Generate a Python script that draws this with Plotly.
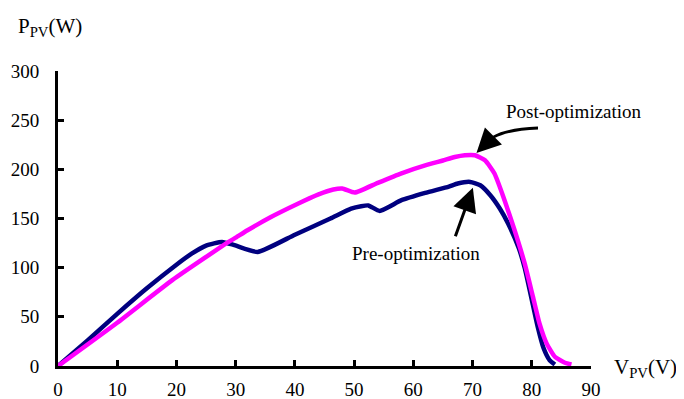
import plotly.graph_objects as go

# Data
pre_v = [0, 5, 10, 15, 20, 22.5, 25, 27.7, 29.8, 33.7, 40, 46, 49.5, 51.2, 52.4, 54.3, 58, 62, 66, 67.5, 69.6, 71.3, 73, 74.6, 76, 77.8, 78.8, 80.2, 81, 82, 83, 83.9]
pre_p = [0, 26, 53, 79, 103, 114, 122.5, 126.2, 122.9, 116, 133.5, 150, 160, 162.5, 163.3, 157.7, 168.6, 176, 182.5, 185.6, 187.2, 183.8, 173.7, 160.2, 145, 120, 100, 62, 40, 18, 6, 1.5]

post_v = [0, 10, 19.3, 28.8, 30, 32, 35.8, 40.5, 44, 46.5, 48, 50.1, 54, 58, 62, 65, 67, 68.7, 70.4, 72.1, 73.7, 75.4, 77.1, 78.8, 80.2, 81.3, 82.5, 83.9, 85.6, 86.7]
post_p = [0, 44, 87.3, 126.2, 130.5, 138, 151, 165, 174.5, 179.5, 180.5, 176.4, 186.3, 196, 204, 209, 212.5, 214.3, 214.3, 209.2, 195.7, 168.6, 138.1, 104.3, 70.3, 43.3, 23, 9.4, 3.3, 1.5]

x_ticks = [0, 10, 20, 30, 40, 50, 60, 70, 80, 90]
y_ticks = [0, 50, 100, 150, 200, 250, 300]

FONT = '"Liberation Serif", "Times New Roman", "DejaVu Serif", serif'
NAVY = "#00007f"
MAGENTA = "#ff00ff"

fig = go.Figure()
fig.add_trace(go.Scatter(x=pre_v, y=pre_p, mode="lines",
                         line=dict(color=NAVY, width=4.5, shape="spline", smoothing=0.5),
                         hoverinfo="skip", showlegend=False))
fig.add_trace(go.Scatter(x=post_v, y=post_p, mode="lines",
                         line=dict(color=MAGENTA, width=4.5, shape="spline", smoothing=0.5),
                         hoverinfo="skip", showlegend=False))

# The page body has an 8px margin, so the figure is placed 8px down/right.
fig.update_layout(
    width=676, height=391,
    margin=dict(l=50, r=93, t=63, b=33, pad=0),
    paper_bgcolor="white", plot_bgcolor="white",
    font=dict(family=FONT, size=19, color="black"),
    xaxis=dict(range=[0, 90], tickvals=x_ticks, ticks="inside", ticklen=6, tickwidth=3,
               tickcolor="black", showline=True, linecolor="black", linewidth=3,
               showgrid=False, zeroline=False, ticklabelstandoff=4, automargin=False,
               tickfont=dict(family=FONT, size=19)),
    yaxis=dict(range=[0, 300], tickvals=y_ticks, ticks="inside", ticklen=6, tickwidth=3,
               tickcolor="black", showline=True, linecolor="black", linewidth=3,
               showgrid=False, zeroline=False, ticklabelstandoff=12, automargin=False,
               tickfont=dict(family=FONT, size=19)),
)

# Curved arrow for Post-optimization
fig.add_shape(type="path", xref="x", yref="y",
              path="M 81.05,242 Q 73.5,240 72.1,224.5",
              line=dict(color="black", width=3))
fig.add_annotation(x=70.66, y=216.7, xref="x", yref="y", ax=12, ay=-12,
                   showarrow=True, arrowhead=2, arrowsize=1.6, arrowwidth=3,
                   arrowcolor="black", text="")
fig.add_annotation(x=87.2, y=259.3, xref="x", yref="y", text="Post-optimization",
                   showarrow=False, font=dict(family=FONT, size=19))

# Straight arrow for Pre-optimization
fig.add_annotation(x=70.05, y=181.3, xref="x", yref="y", ax=-18, ay=50,
                   showarrow=True, arrowhead=2, arrowsize=1.6, arrowwidth=3,
                   arrowcolor="black", text="")
fig.add_annotation(x=60.5, y=114.4, xref="x", yref="y", text="Pre-optimization",
                   showarrow=False, font=dict(family=FONT, size=19))

# Axis titles
fig.add_annotation(x=-0.079, y=1.149, xref="paper", yref="paper", xanchor="left", yanchor="middle",
                   text="P<sub>PV</sub>(W)", showarrow=False, font=dict(family=FONT, size=21))
fig.add_annotation(x=1.039, y=-0.007, xref="paper", yref="paper", xanchor="left", yanchor="middle",
                   text="V<sub>PV</sub>(V)", showarrow=False, font=dict(family=FONT, size=21))

fig.write_html("out.html")
